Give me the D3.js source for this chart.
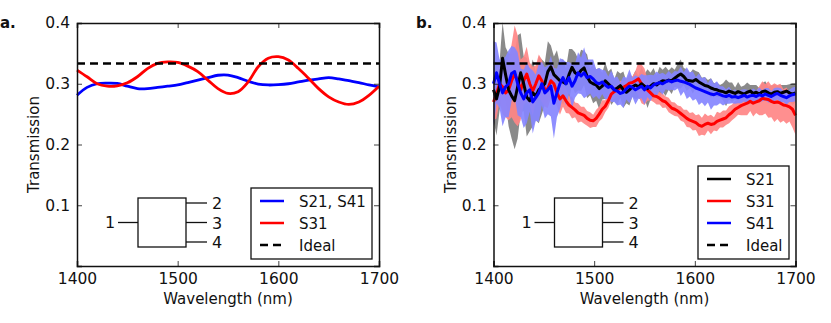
<!DOCTYPE html>
<html>
<head>
<meta charset="utf-8">
<script src="https://cdnjs.cloudflare.com/ajax/libs/d3/7.8.5/d3.min.js"></script>
<style>
    body { margin: 0; background: #fff; }
    svg { display: block; }
    text { font-family: "DejaVu Sans", sans-serif; fill: #111; }
</style>
</head>
<body>
<svg width="831" height="323"></svg>
<script>
// panel a, simulated curves (10 nm steps)
var simWavelengths = [1400,1410,1420,1430,1440,1450,1460,1470,1480,1490,1500,1510,1520,1530,1540,1550,
    1560,1570,1580,1590,1600,1610,1620,1630,1640,1650,1660,1670,1680,1690,1700];
var simS21 = [.281,.294,.300,.301,.3005,.296,.292,.292,.294,.296,.298,.302,.306,.310,.314,.3143,
    .310,.304,.2995,.298,.2985,.300,.303,.306,.308,.310,.308,.305,.302,.298,.295];
var simS31 = [.3225,.3115,.300,.296,.2965,.3015,.3115,.325,.3335,.336,.335,.329,.320,.306,.292,.284,
    .287,.303,.328,.342,.3445,.339,.325,.309,.292,.2785,.270,.266,.270,.281,.296];
var ideal = 1 / 3;

// panel b, measured curves (3 nm steps from 1400)
var measStart = 1400, measStep = 3;
var measS21 = [
    .290,.275,.295,.342,.315,.290,.280,.272,.295,.318,
    .300,.278,.272,.285,.280,.290,.295,.300,.320,.328,
    .315,.310,.305,.303,.300,.315,.327,.318,.315,.322,
    .326,.312,.303,.300,.298,.292,.296,.305,.300,.295,
    .290,.293,.297,.290,.286,.290,.295,.298,.295,.300,
    .296,.292,.296,.300,.298,.302,.305,.304,.306,.305,
    .309,.313,.316,.312,.306,.305,.304,.307,.303,.300,
    .297,.296,.293,.291,.290,.288,.287,.285,.288,.286,
    .284,.287,.285,.283,.286,.288,.284,.286,.283,.287,
    .288,.285,.283,.286,.287,.284,.286,.288,.285,.283,
    .285];
var measS31 = [
    .270,.283,.300,.295,.285,.290,.305,.316,.305,.290,
    .305,.316,.300,.288,.300,.313,.305,.290,.292,.305,
    .300,.285,.275,.280,.272,.265,.261,.257,.252,.250,
    .248,.243,.240,.239,.243,.250,.258,.263,.272,.283,
    .287,.290,.293,.294,.297,.301,.302,.305,.308,.300,
    .295,.290,.285,.280,.279,.276,.272,.270,.265,.260,
    .258,.255,.251,.247,.243,.240,.238,.236,.232,.230,
    .233,.235,.233,.234,.238,.240,.242,.244,.249,.253,
    .258,.261,.264,.266,.268,.271,.268,.270,.272,.276,
    .275,.274,.271,.269,.270,.268,.265,.264,.262,.258,
    .248];
var measS41 = [
    .300,.318,.300,.285,.295,.300,.317,.320,.300,.285,
    .275,.285,.290,.270,.277,.285,.300,.285,.290,.296,
    .268,.285,.300,.310,.300,.310,.296,.305,.318,.313,
    .318,.310,.312,.308,.302,.300,.303,.298,.294,.296,
    .290,.288,.284,.286,.292,.296,.294,.290,.293,.296,
    .290,.296,.293,.298,.300,.302,.300,.303,.305,.303,
    .305,.306,.304,.303,.301,.299,.296,.293,.291,.289,
    .287,.285,.283,.282,.284,.282,.280,.279,.281,.278,
    .279,.277,.279,.281,.278,.280,.281,.279,.282,.280,
    .283,.281,.279,.282,.284,.281,.279,.277,.280,.282,
    .283];

// half width of the shaded band around each measured curve
var spreadS21 = [
    .050,.060,.040,.060,.045,.060,.070,.080,.085,.065,
    .045,.065,.050,.055,.040,.055,.045,.035,.050,.035,
    .030,.045,.028,.038,.025,.042,.030,.034,.026,.034,
    .028,.036,.022,.032,.026,.034,.022,.030,.020,.030,
    .018,.028,.020,.030,.018,.026,.016,.024,.018,.028,
    .020,.032,.022,.026,.016,.026,.018,.024,.016,.022,
    .014,.020,.024,.014,.018,.012,.020,.014,.016,.010,
    .014,.010,.016,.010,.012,.010,.014,.022,.014,.016,
    .010,.016,.010,.014,.016,.010,.014,.012,.010,.014,
    .016,.010,.014,.012,.010,.014,.012,.010,.014,.018,
    .016];
var spreadS31 = [
    .030,.040,.030,.045,.040,.050,.060,.080,.075,.050,
    .040,.045,.035,.040,.030,.035,.035,.028,.032,.028,
    .028,.022,.026,.018,.020,.014,.018,.012,.016,.012,
    .014,.012,.013,.010,.014,.012,.015,.010,.012,.010,
    .011,.009,.012,.010,.011,.014,.010,.016,.028,.032,
    .030,.018,.012,.010,.013,.010,.012,.009,.012,.010,
    .011,.009,.012,.010,.014,.012,.015,.012,.018,.014,
    .018,.012,.016,.011,.016,.012,.014,.012,.014,.013,
    .014,.012,.016,.018,.020,.016,.022,.018,.024,.028,
    .024,.030,.026,.032,.028,.032,.026,.030,.024,.030,
    .032];
var spreadS41 = [
    .070,.050,.040,.055,.050,.055,.045,.040,.052,.040,
    .048,.050,.036,.052,.038,.048,.036,.042,.040,.050,
    .058,.040,.042,.030,.036,.026,.036,.028,.034,.030,
    .042,.030,.028,.032,.022,.026,.020,.024,.018,.026,
    .020,.024,.018,.026,.018,.028,.016,.024,.018,.020,
    .024,.018,.022,.016,.020,.014,.018,.012,.016,.013,
    .016,.014,.024,.016,.026,.020,.024,.018,.026,.020,
    .024,.016,.026,.018,.020,.014,.016,.012,.014,.010,
    .012,.009,.011,.010,.012,.009,.011,.010,.012,.009,
    .010,.012,.009,.011,.010,.012,.009,.011,.010,.012,
    .012];

var xTicks = [1400, 1500, 1600, 1700];
var yTicks = [0.1, 0.2, 0.3, 0.4];

var svg = d3.select("svg");
var margin = { top: 23, bottom: 57 };
var height = 323 - margin.top - margin.bottom;
var plotWidth = 302;

var measWavelengths = measS21.map(function(d, i) {
    return measStart + i * measStep;
});

// sets up one panel, returns its scales and group
function makePanel(left, label, labelX) {
    var g = svg.append("g").attr("transform", "translate(" + left + "," + margin.top + ")");
    var x = d3.scaleLinear().domain([1400, 1700]).range([0, plotWidth]);
    var y = d3.scaleLinear().domain([0, 0.4]).range([height, 0]);

    svg.append("text").attr("x", labelX).attr("y", 28)
        .style("font-size", "15px").style("font-weight", "bold").text(label);

    g.append("text").attr("x", plotWidth / 2).attr("y", height + 38)
        .attr("text-anchor", "middle").style("font-size", "15px").text("Wavelength (nm)");
    g.append("text")
        .attr("transform", "translate(-38," + (height / 2) + ") rotate(-90)")
        .attr("text-anchor", "middle").style("font-size", "15px").text("Transmission");

    return { g: g, x: x, y: y };
}

// axes go last so the frame sits on top of the curves
function drawFrame(p) {
    var xAxis = d3.axisBottom(p.x).tickValues(xTicks).tickFormat(d3.format("d")).tickSize(-5).tickPadding(7);
    var yAxis = d3.axisLeft(p.y).tickValues(yTicks).tickFormat(d3.format(".1f")).tickSize(-5).tickPadding(7);
    var axes = [
        p.g.append("g").attr("transform", "translate(0," + height + ")").call(xAxis),
        p.g.append("g").call(yAxis),
        p.g.append("g").call(d3.axisTop(p.x).tickValues(xTicks).tickFormat("").tickSize(-5)),
        p.g.append("g").attr("transform", "translate(" + plotWidth + ",0)")
            .call(d3.axisRight(p.y).tickValues(yTicks).tickFormat("").tickSize(-5))
    ];
    axes.forEach(function(a) {
        a.selectAll("text").style("font-size", "15.5px");
        a.selectAll(".domain").attr("stroke", "#111").attr("stroke-width", 1.5);
        a.selectAll("line").attr("stroke", "#111").attr("stroke-width", 0.8);
    });
}

function drawIdeal(p) {
    p.g.append("line")
        .attr("x1", p.x(1400)).attr("x2", p.x(1700))
        .attr("y1", p.y(ideal)).attr("y2", p.y(ideal))
        .attr("stroke", "#000").attr("stroke-width", 2.5)
        .attr("stroke-dasharray", "8,5");
}

function drawCurve(p, xs, ys, color, width, curve) {
    var line = d3.line()
        .x(function(d, i) { return p.x(xs[i]); })
        .y(function(d) { return p.y(d); })
        .curve(curve);
    p.g.append("path").datum(ys).attr("d", line)
        .attr("fill", "none").attr("stroke", color)
        .attr("stroke-width", width).attr("stroke-linejoin", "round");
}

function drawBand(p, xs, ys, spread, color) {
    var area = d3.area()
        .x(function(d, i) { return p.x(xs[i]); })
        .y0(function(d, i) { return p.y(d - spread[i]); })
        .y1(function(d, i) { return p.y(d + spread[i]); });
    p.g.append("path").datum(ys).attr("d", area)
        .attr("fill", color).attr("fill-opacity", 0.92);
}

// the little 1x3 port drawing in the corner
function drawInset(p) {
    var box = p.g.append("g").attr("transform", "translate(61,175)");
    box.append("rect").attr("width", 48).attr("height", 49)
        .attr("fill", "none").attr("stroke", "#111").attr("stroke-width", 1.3);
    box.append("line").attr("x1", -20).attr("x2", 0).attr("y1", 24.5).attr("y2", 24.5)
        .attr("stroke", "#111").attr("stroke-width", 1.3);
    box.append("text").attr("x", -28).attr("y", 30).attr("text-anchor", "middle")
        .style("font-size", "16px").text("1");
    ["2", "3", "4"].forEach(function(port, i) {
        var yPos = 5 + i * 19.5;
        box.append("line").attr("x1", 48).attr("x2", 69).attr("y1", yPos).attr("y2", yPos)
            .attr("stroke", "#111").attr("stroke-width", 1.3);
        box.append("text").attr("x", 79).attr("y", yPos + 6).attr("text-anchor", "middle")
            .style("font-size", "16px").text(port);
    });
}

function drawLegend(p, left, top, w, items) {
    var rowH = 22;
    var legend = p.g.append("g").attr("transform", "translate(" + left + "," + top + ")");
    legend.append("rect").attr("width", w).attr("height", items.length * rowH + 5)
        .attr("fill", "#fff").attr("stroke", "#111").attr("stroke-width", 1.3);
    items.forEach(function(item, i) {
        var yPos = 13 + i * rowH;
        legend.append("line").attr("x1", 9).attr("x2", 33).attr("y1", yPos).attr("y2", yPos)
            .attr("stroke", item.color).attr("stroke-width", 2.5)
            .attr("stroke-dasharray", item.dash ? "8,5" : null);
        legend.append("text").attr("x", 48).attr("y", yPos + 5.5)
            .style("font-size", "15px").text(item.name);
    });
}

// panel a
var panelA = makePanel(77, "a.", 0);
drawCurve(panelA, simWavelengths, simS21, "#0000ff", 2.8, d3.curveCatmullRom);
drawCurve(panelA, simWavelengths, simS31, "#ff0000", 2.8, d3.curveCatmullRom);
drawIdeal(panelA);
drawInset(panelA);
drawLegend(panelA, 174, 165, 121, [
    { name: "S21, S41", color: "#0000ff" },
    { name: "S31", color: "#ff0000" },
    { name: "Ideal", color: "#000", dash: true }
]);
drawFrame(panelA);

// panel b
var panelB = makePanel(493.5, "b.", 416);
drawBand(panelB, measWavelengths, measS21, spreadS21, "#808080");
drawBand(panelB, measWavelengths, measS31, spreadS31, "#ff8585");
drawBand(panelB, measWavelengths, measS41, spreadS41, "#8585ff");
drawCurve(panelB, measWavelengths, measS31, "#ff0000", 3, d3.curveLinear);
drawCurve(panelB, measWavelengths, measS21, "#000", 3, d3.curveLinear);
drawCurve(panelB, measWavelengths, measS41, "#0000ff", 3, d3.curveLinear);
drawIdeal(panelB);
drawInset(panelB);
drawLegend(panelB, 204.5, 143, 91, [
    { name: "S21", color: "#000" },
    { name: "S31", color: "#ff0000" },
    { name: "S41", color: "#0000ff" },
    { name: "Ideal", color: "#000", dash: true }
]);
drawFrame(panelB);
</script>
</body>
</html>
